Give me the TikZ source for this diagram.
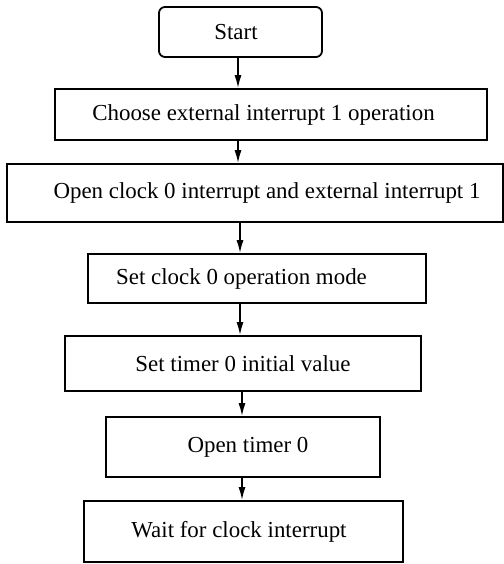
\documentclass[tikz,border=0pt]{standalone}
\usepackage{fontspec}
\setmainfont{Liberation Serif}
\usetikzlibrary{arrows.meta}

\tikzset{
  flowbox/.style={draw, line width=1.8bp, inner sep=0pt, font=\fontsize{23}{27}\selectfont},
  flowarrow/.style={line width=1.6bp, -{Latex[length=13bp,width=7bp]}}
}

\begin{document}
\begin{tikzpicture}[x=1bp, y=-1bp]
\useasboundingbox (0,0) rectangle (504,564);

% start
\node[flowbox, rounded corners=6bp, minimum width=163bp, minimum height=50bp] (start) at (240.5,32) {Start\hspace*{9bp}};

% steps
\node[flowbox, minimum width=432bp, minimum height=51bp] (choose) at (271,114.5) {Choose external interrupt 1 operation\hspace*{15bp}};
\node[flowbox, minimum width=496bp, minimum height=58bp] (openclk) at (255,193) {\hspace*{24bp}Open clock 0 interrupt and external interrupt 1};
\node[flowbox, minimum width=338bp, minimum height=49bp] (clkmode) at (257,278.5) {Set clock 0 operation mode\hspace*{31bp}};
\node[flowbox, minimum width=356bp, minimum height=55bp] (tmrval) at (243,363.5) {Set timer 0 initial value};
\node[flowbox, minimum width=274bp, minimum height=60bp] (opentmr) at (243,447) {\hspace*{10bp}Open timer 0};
\node[flowbox, minimum width=319bp, minimum height=61bp] (wait) at (243.5,531.5) {Wait for clock interrupt\hspace*{9bp}};

% arrows
\coordinate (ax1) at (238,0);
\coordinate (ax2) at (240,0);
\coordinate (ax3) at (242,0);
\draw[flowarrow] (ax1 |- start.south) -- (ax1 |- choose.north);
\draw[flowarrow] (ax1 |- choose.south) -- (ax1 |- openclk.north);
\draw[flowarrow] (ax2 |- openclk.south) -- (ax2 |- clkmode.north);
\draw[flowarrow] (ax2 |- clkmode.south) -- (ax2 |- tmrval.north);
\draw[flowarrow] (ax3 |- tmrval.south) -- (ax3 |- opentmr.north);
\draw[flowarrow] (ax3 |- opentmr.south) -- (ax3 |- wait.north);

\end{tikzpicture}
\end{document}
